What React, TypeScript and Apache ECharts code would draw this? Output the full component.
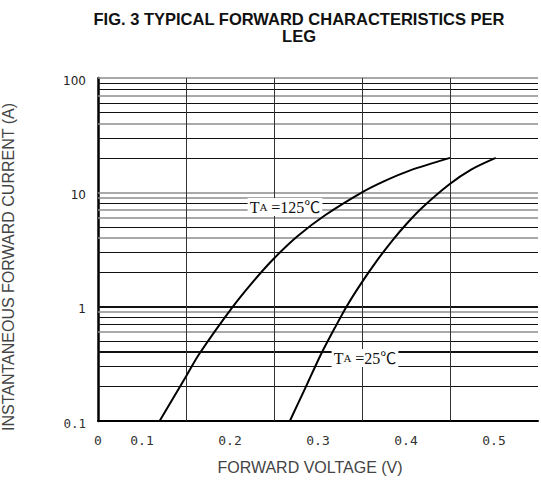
import React, { useEffect, useRef } from "react";
import * as echarts from "echarts";

// Forward characteristics: [voltage (V), current (A)]
const curve125: [number, number][] = [
  [0.120, 0.1], [0.150, 0.245], [0.165, 0.385], [0.202, 0.97], [0.227, 1.68],
  [0.251, 2.69], [0.277, 4.15], [0.308, 6.3], [0.350, 10.0], [0.376, 12.6],
  [0.404, 15.5], [0.450, 20],
];
const curve25: [number, number][] = [
  [0.268, 0.1], [0.285, 0.19], [0.303, 0.378], [0.319, 0.65], [0.333, 1.02],
  [0.350, 1.64], [0.367, 2.53], [0.384, 3.75], [0.401, 5.34], [0.418, 7.3],
  [0.449, 11.7], [0.474, 15.8], [0.502, 20],
];

// Axis ticks and grid lines
const xLabelValues = [0.1, 0.2, 0.3, 0.4, 0.5];
const xGridValues = [0.15, 0.25, 0.35, 0.45];
const yGridValues = [
  0.2, 0.3, 0.4, 0.5, 0.6, 0.7, 0.8, 0.9, 1,
  2, 3, 4, 5, 6, 7, 8, 9, 10,
  20, 30, 40, 50, 60, 70, 80, 90, 100,
];
const yGreyLines = [0.6, 0.9, 4, 6, 7, 9, 10, 40, 70, 100];
const yThickLines = [0.4, 1];

const titleLines = ["FIG. 3 TYPICAL FORWARD CHARACTERISTICS PER", "LEG"];
const xName = "FORWARD VOLTAGE (V)";
const yName = "INSTANTANEOUS FORWARD CURRENT (A)";

export default function App() {
  const ref = useRef<HTMLDivElement>(null);
  useEffect(() => {
    document.body.style.margin = "0";
    if (!ref.current) return;
    const chart = echarts.init(ref.current, null, { renderer: "svg" });

    const hLineData = yGridValues.map((v) => {
      const grey = yGreyLines.indexOf(v) >= 0;
      const thick = yThickLines.indexOf(v) >= 0;
      return {
        yAxis: v,
        lineStyle: {
          color: grey ? "#8c8c8c" : "#111",
          width: thick ? 2 : grey ? 1.6 : 1,
          type: "solid",
        },
      };
    });
    const vLineData = xGridValues.map((v) => ({
      xAxis: v,
      lineStyle: { color: "#333", width: 1, type: "solid" },
    }));

    const round2 = (v: number) => Math.round(v * 100) / 100;

    const titleGraphics = titleLines.map((t, i) => ({
      type: "text",
      x: 299,
      y: 19 + i * 17,
      z: 100,
      style: {
        text: t,
        textAlign: "center",
        textVerticalAlign: "middle",
        fontFamily: "Liberation Sans",
        fontWeight: "bold",
        fontSize: 16.5,
        fill: "#111",
      },
    }));

    const option: any = {
      animation: false,
      backgroundColor: "#fff",
      grid: { left: 98, top: 78, width: 444.5, height: 343 },
      xAxis: {
        type: "value",
        min: 0.05,
        max: 0.55,
        interval: 0.05,
        axisLine: { show: true, onZero: false, lineStyle: { color: "#000", width: 2 } },
        axisTick: { show: false },
        splitLine: { show: false },
        axisLabel: {
          fontFamily: "DejaVu Sans Mono",
          fontSize: 13,
          color: "#333",
          margin: 13,
          showMinLabel: true,
          showMaxLabel: true,
          formatter: (v: number) => {
            const r = round2(v);
            if (Math.abs(r - 0.05) < 1e-6) return "0";
            if (xLabelValues.some((x) => Math.abs(x - r) < 1e-6)) return r.toFixed(1);
            return "";
          },
        },
        name: xName,
        nameLocation: "middle",
        nameGap: 38,
        nameTextStyle: {
          fontFamily: "Liberation Sans",
          fontSize: 16,
          color: "#444",
          padding: [0, 16, 0, 0],
        },
      },
      yAxis: {
        type: "log",
        logBase: 10,
        min: 0.1,
        max: 100,
        axisLine: { show: true, lineStyle: { color: "#000", width: 2.5 } },
        axisTick: { show: false },
        splitLine: { show: false },
        minorSplitLine: { show: false },
        axisLabel: {
          margin: 12,
          padding: [5, 0, 0, 0],
          formatter: (v: number) => (v < 0.5 ? "{m|0.1}" : "{s|" + Math.round(v) + "}"),
          rich: {
            m: { fontFamily: "DejaVu Sans Mono", fontSize: 12.5, color: "#333" },
            s: { fontFamily: "DejaVu Sans", fontSize: 12, color: "#222" },
          },
        },
      },
      series: [
        {
          type: "line",
          data: curve125,
          smooth: 0.3,
          symbol: "none",
          lineStyle: { color: "#000", width: 2 },
          z: 5,
          markLine: {
            silent: true,
            symbol: "none",
            label: { show: false },
            animation: false,
            data: [...hLineData, ...vLineData],
          },
        },
        {
          type: "line",
          data: curve25,
          smooth: 0.3,
          symbol: "none",
          lineStyle: { color: "#000", width: 2 },
          z: 5,
        },
      ],
      graphic: [
        ...titleGraphics,
        {
          type: "text",
          x: 8,
          y: 267,
          rotation: Math.PI / 2,
          z: 100,
          style: {
            text: yName,
            textAlign: "center",
            textVerticalAlign: "middle",
            fontFamily: "Liberation Sans",
            fontSize: 16,
            fill: "#444",
          },
        },
        {
          type: "text",
          x: 285,
          y: 207,
          z: 100,
          style: {
            text: "{t|T}{a|A}{t| =125℃}",
            textAlign: "center",
            textVerticalAlign: "middle",
            backgroundColor: "#fff",
            padding: [1, 2, 1, 2],
            rich: {
              t: { fontFamily: "Liberation Serif, Noto Sans CJK SC", fontSize: 16, fill: "#111" },
              a: { fontFamily: "Liberation Serif", fontSize: 11, fill: "#111" },
            },
          },
        },
        {
          type: "text",
          x: 365,
          y: 358,
          z: 100,
          style: {
            text: "{t|T}{a|A}{t| =25℃}",
            textAlign: "center",
            textVerticalAlign: "middle",
            backgroundColor: "#fff",
            padding: [1, 2, 1, 2],
            rich: {
              t: { fontFamily: "Liberation Serif, Noto Sans CJK SC", fontSize: 16, fill: "#111" },
              a: { fontFamily: "Liberation Serif", fontSize: 11, fill: "#111" },
            },
          },
        },
      ],
    };
    chart.setOption(option);
    return () => chart.dispose();
  }, []);
  return <div ref={ref} style={{ width: 541, height: 484 }} />;
}
